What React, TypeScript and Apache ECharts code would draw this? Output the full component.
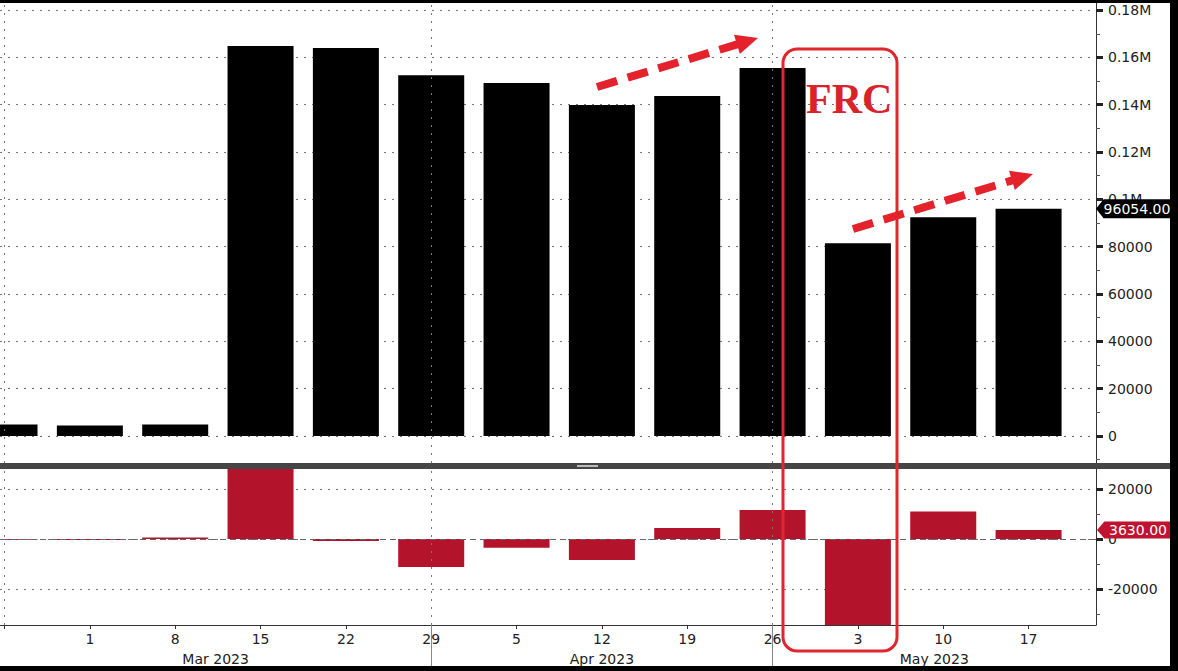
import React, { useEffect, useRef } from "react";
import * as echarts from "echarts";

// ---- data (weekly, index 0 = 22 Feb 2023) ----
const weekLabels = ["22", "1", "8", "15", "22", "29", "5", "12", "19", "26", "3", "10", "17"];
const levels = [4900, 4500, 4900, 164800, 164000, 152500, 149200, 139900, 143700, 155500, 81500, 92500, 96054];
const changes = [-300, -400, 600, 159900, -800, -11200, -3500, -8400, 4400, 11600, -74000, 11000, 3630];
const monthLabels = ["Mar 2023", "Apr 2023", "May 2023"];
const monthStartIdx = [5, 9];
const gridLineIdx = [0, 5, 9];
const upperTicks = [0, 20000, 40000, 60000, 80000, 100000, 120000, 140000, 160000, 180000];
const lowerTicks = [-20000, 0, 20000];

const X_MIN = -0.053;
const X_MAX = 12.79;
const U_MIN = -11400, U_MAX = 183000;
const L_MIN = -34400, L_MAX = 28000;

const FONT = "DejaVu Sans";
const BAR_RED = "#b3132b";
const ANN_RED = "#e3222b";

const dotted = { type: [2, 6] as any, color: "#777", width: 1 };

function arrow(x1: number, y1: number, tx: number, ty: number) {
  const dx = tx - x1, dy = ty - y1;
  const len = Math.sqrt(dx * dx + dy * dy);
  const ux = dx / len, uy = dy / len;
  const px = -uy, py = ux;
  const head = 22, half = 10;
  const bx = tx - ux * head, by = ty - uy * head;
  return [
    {
      type: "line",
      z: 100,
      shape: { x1, y1, x2: bx + ux * 2, y2: by + uy * 2 },
      style: { stroke: ANN_RED, lineWidth: 8, lineDash: [21, 11], lineCap: "butt" },
    },
    {
      type: "polygon",
      z: 100,
      shape: { points: [[tx, ty], [bx + px * half, by + py * half], [bx - px * half, by - py * half]] },
      style: { fill: ANN_RED },
    },
  ];
}

function minorOf(ticks: number[], lo: number, hi: number) {
  const step = ticks[1] - ticks[0];
  const out: number[] = [];
  for (let v = ticks[0] - step / 2; v >= lo; v -= step) out.push(v);
  for (let i = 0; i < ticks.length; i++) {
    const v = ticks[i] + step / 2;
    if (v <= hi) out.push(v);
  }
  return out;
}

export default function App() {
  const ref = useRef<HTMLDivElement>(null);
  useEffect(() => {
    document.body.style.margin = "0";
    if (!ref.current) return;
    const chart = echarts.init(ref.current, undefined, { renderer: "svg" });

    const monthBounds = [X_MIN, ...monthStartIdx, X_MAX];
    const monthCenters = monthLabels.map((_, i) => (monthBounds[i] + monthBounds[i + 1]) / 2);
    const dayIdx = weekLabels.map((_, i) => i).filter((i) => i > 0);
    const allIdx = weekLabels.map((_, i) => i);

    const upperFmt = (v: number) => (v >= 100000 ? String(+(v / 1e6).toFixed(2)) + "M" : String(v));

    const vLines = gridLineIdx.map((i) => ({ xAxis: i }));

    const minorAxis = (gridIndex: number, min: number, max: number, ticks: number[]) => ({
      type: "value", gridIndex, position: "right", min, max,
      axisLine: { show: false, onZero: false },
      axisTick: { show: true, customValues: minorOf(ticks, min, max), length: 4, lineStyle: { color: "#555", width: 1 } },
      axisLabel: { show: false },
      splitLine: { show: false },
    });

    const option: any = {
      animation: false,
      backgroundColor: "#fff",
      textStyle: { fontFamily: FONT },
      grid: [
        { left: 0, right: 74, top: 0, height: 460 },
        { left: 0, right: 74, top: 466, height: 156 },
      ],
      xAxis: [
        {
          type: "value", gridIndex: 0, min: X_MIN, max: X_MAX, position: "bottom",
          axisLine: { show: false, onZero: false }, axisTick: { show: false }, axisLabel: { show: false }, splitLine: { show: false },
        },
        {
          type: "value", gridIndex: 1, min: X_MIN, max: X_MAX, position: "bottom",
          axisLine: { show: true, onZero: false, lineStyle: { color: "#333", width: 1 } },
          axisTick: { show: true, customValues: allIdx, length: 4, lineStyle: { color: "#333" } },
          axisLabel: {
            show: true, customValues: dayIdx, margin: 7, fontSize: 14, color: "#222", fontFamily: FONT,
            formatter: (v: number) => weekLabels[Math.round(v)],
          },
          splitLine: { show: false },
        },
        {
          type: "value", gridIndex: 1, min: X_MIN, max: X_MAX, position: "bottom",
          axisLine: { show: false, onZero: false },
          axisTick: { show: true, customValues: monthStartIdx, length: 41, lineStyle: { color: "#888", width: 1 } },
          axisLabel: {
            show: true, customValues: monthCenters, margin: 27, fontSize: 14, color: "#222", fontFamily: FONT,
            formatter: (v: number) => {
              let best = 0;
              monthCenters.forEach((c, i) => { if (Math.abs(c - v) < Math.abs(monthCenters[best] - v)) best = i; });
              return monthLabels[best];
            },
          },
          splitLine: { show: false },
        },
      ],
      yAxis: [
        {
          type: "value", gridIndex: 0, position: "right", min: U_MIN, max: U_MAX,
          axisLine: { show: true, onZero: false, lineStyle: { color: "#333", width: 1 } },
          axisTick: { show: true, customValues: upperTicks, length: 7, lineStyle: { color: "#222", width: 3 } },
          axisLabel: {
            show: true, customValues: upperTicks, margin: 12, fontSize: 14, color: "#222", fontFamily: FONT,
            formatter: upperFmt,
          },
          splitLine: { show: true, lineStyle: dotted },
        },
        {
          type: "value", gridIndex: 1, position: "right", min: L_MIN, max: L_MAX,
          axisLine: { show: true, onZero: false, lineStyle: { color: "#333", width: 1 } },
          axisTick: { show: true, customValues: lowerTicks, length: 7, lineStyle: { color: "#222", width: 3 } },
          axisLabel: {
            show: true, customValues: lowerTicks, margin: 12, fontSize: 14, color: "#222", fontFamily: FONT,
            formatter: (v: number) => String(v),
          },
          splitLine: { show: true, lineStyle: dotted },
        },
        minorAxis(0, U_MIN, U_MAX, upperTicks),
        minorAxis(1, L_MIN, L_MAX, lowerTicks),
      ],
      series: [
        {
          type: "bar", xAxisIndex: 0, yAxisIndex: 0, barWidth: 66, clip: true,
          itemStyle: { color: "#000" },
          data: levels.map((v, i) => [i, v]),
          markLine: {
            silent: true, symbol: "none", label: { show: false },
            lineStyle: dotted,
            data: vLines,
          },
          markPoint: {
            silent: true,
            symbol: "path://M0 10 L8 0 L80 0 L80 20 L8 20 Z",
            symbolKeepAspect: false,
            data: [
              {
                coord: [X_MAX, levels[levels.length - 1]],
                value: levels[levels.length - 1],
                symbolSize: [76, 19],
                symbolOffset: [38, 0],
                itemStyle: { color: "#000" },
                label: {
                  show: true, position: "inside", color: "#fff", fontSize: 14, fontFamily: FONT, offset: [3, 0],
                  formatter: (p: any) => Number(p.value).toFixed(2),
                },
              },
            ],
          },
        },
        {
          type: "bar", xAxisIndex: 1, yAxisIndex: 1, barWidth: 66, clip: true,
          itemStyle: { color: BAR_RED },
          data: changes.map((v, i) => [i, v]),
          markLine: {
            silent: true, symbol: "none", label: { show: false },
            lineStyle: dotted,
            data: [
              ...vLines,
              { yAxis: 0, lineStyle: { type: [6, 4], color: "#666", width: 1 } },
            ],
          },
          markPoint: {
            silent: true,
            symbol: "path://M0 9 L8 0 L80 0 L80 18 L8 18 Z",
            symbolKeepAspect: false,
            data: [
              {
                coord: [X_MAX, changes[changes.length - 1]],
                value: changes[changes.length - 1],
                symbolSize: [74, 17],
                symbolOffset: [38, 0],
                itemStyle: { color: "#c0132f" },
                label: {
                  show: true, position: "inside", color: "#fff", fontSize: 14, fontFamily: FONT, offset: [4, 0],
                  formatter: (p: any) => Number(p.value).toFixed(2),
                },
              },
            ],
          },
        },
      ],
      graphic: [
        { type: "rect", z: 50, shape: { x: 0, y: 460, width: 1170, height: 6 }, style: { fill: "#454545" } },
        { type: "rect", z: 51, shape: { x: 577, y: 462, width: 21, height: 2 }, style: { fill: "#bbb" } },
        {
          type: "rect", z: 100,
          shape: { x: 783, y: 46, width: 114, height: 602, r: 14 },
          style: { fill: "none", stroke: "#e0262e", lineWidth: 3 },
        },
        {
          type: "text", z: 101, x: 806, y: 96,
          style: {
            text: "FRC", fill: "#d8232a", font: "bold 42px 'Liberation Serif', serif",
            verticalAlign: "middle", align: "left",
          },
        },
        ...arrow(597, 84, 758, 35),
        ...arrow(853, 226, 1033, 171),
      ],
    };
    chart.setOption(option);
    return () => chart.dispose();
  }, []);

  return (
    <div style={{ width: 1178, height: 671, background: "#000", position: "relative", overflow: "hidden" }}>
      <div ref={ref} style={{ position: "absolute", left: 0, top: 3, width: 1170, height: 663 }} />
    </div>
  );
}
